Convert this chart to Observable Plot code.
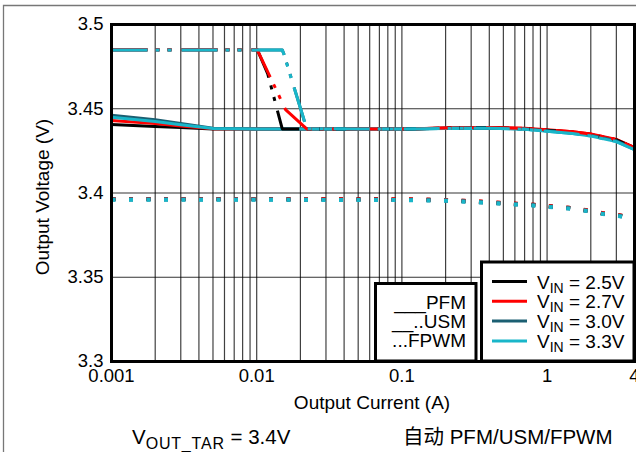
<!DOCTYPE html>
<html><head><meta charset="utf-8">
<script src="https://cdn.jsdelivr.net/npm/d3@7"></script>
<script src="https://cdn.jsdelivr.net/npm/@observablehq/plot@0.6"></script>
<style>
html,body{margin:0;padding:0;background:#fff;}
#chart{width:636px;height:452px;overflow:hidden;}
svg{display:block;font-family:"Liberation Sans",Arial,sans-serif;}
</style></head><body><div id="chart"></div>
<script>
// ---- data ----
const vinLabels = ["2.5V", "2.7V", "3.0V", "3.3V"];
const vinColors = ["#000000", "#ff0000", "#1b5f72", "#19b6c9"];
const modeLabels = ["___PFM", "__..USM", "...FPWM"];
const xTicks = [0.001, 0.01, 0.1, 1, 4];
const yTicks = [3.3, 3.35, 3.4, 3.45, 3.5];
const xGrid = [0.002,0.003,0.004,0.005,0.006,0.007,0.008,0.009,0.01,
               0.02,0.03,0.04,0.05,0.06,0.07,0.08,0.09,0.1,
               0.2,0.3,0.4,0.5,0.6,0.7,0.8,0.9,1,2,3];
const yGrid = [3.35, 3.4, 3.45];

// PFM (solid)
const pfmCurrent = [0.001,0.002,0.003,0.005,0.01,0.02,0.05,0.1,0.2,0.4,0.7,1,1.5,2,3,4];
const pfm25 = [3.4406,3.4395,3.4388,3.4380,3.4380,3.4380,3.4380,3.4380,3.4385,3.4388,3.4382,3.4373,3.4360,3.4347,3.4315,3.4268];
const pfm27 = [3.4430,3.4412,3.4398,3.4382,3.4380,3.4380,3.4380,3.4380,3.4386,3.4389,3.4384,3.4375,3.4363,3.4350,3.4318,3.4270];
const pfm30 = [3.4462,3.4435,3.4412,3.4385,3.4380,3.4380,3.4380,3.4380,3.4384,3.4386,3.4380,3.4370,3.4356,3.4342,3.4310,3.4262];
const pfm33 = [3.4450,3.4425,3.4405,3.4383,3.4380,3.4380,3.4380,3.4380,3.4383,3.4385,3.4378,3.4367,3.4353,3.4338,3.4305,3.4258];

// USM (dash-dot)
const usmCurrent25 = [0.001,0.0101,0.0119,0.015,0.02,0.05,0.1,0.2,0.4,0.7,1,1.5,2,3,4];
const usm25 = [3.4850,3.4850,3.4709,3.4380,3.4380,3.4380,3.4380,3.4385,3.4388,3.4382,3.4373,3.4360,3.4347,3.4315,3.4268];
const usmCurrent27 = [0.001,0.0101,0.0158,0.0221,0.05,0.1,0.2,0.4,0.7,1,1.5,2,3,4];
const usm27 = [3.4850,3.4850,3.4495,3.4380,3.4380,3.4380,3.4386,3.4389,3.4384,3.4375,3.4363,3.4350,3.4318,3.4270];
const usmCurrent3x = [0.001,0.015,0.0154,0.0221,0.05,0.1,0.2,0.4,0.7,1,1.5,2,3,4];
const usm30 = [3.4849,3.4849,3.4825,3.4381,3.4380,3.4380,3.4384,3.4386,3.4380,3.4370,3.4356,3.4342,3.4310,3.4262];
const usm33 = [3.4848,3.4848,3.4823,3.4382,3.4380,3.4380,3.4383,3.4385,3.4378,3.4367,3.4353,3.4338,3.4305,3.4258];

// FPWM (dotted)
const fpwmCurrent = [0.001,0.01,0.1,0.2,0.35,0.5,0.8,1,1.4,2,2.43,3.24,4];
const fpwm25 = [3.3964,3.3964,3.3962,3.3958,3.3948,3.3940,3.3930,3.3922,3.3912,3.3894,3.3879,3.3865,3.3847];
const fpwm27 = [3.3965,3.3965,3.3963,3.3959,3.3949,3.3941,3.3931,3.3923,3.3913,3.3895,3.3880,3.3866,3.3848];
const fpwm30 = [3.3961,3.3961,3.3959,3.3955,3.3945,3.3937,3.3927,3.3919,3.3909,3.3891,3.3876,3.3862,3.3844];
const fpwm33 = [3.3960,3.3960,3.3958,3.3954,3.3944,3.3936,3.3926,3.3918,3.3908,3.3890,3.3875,3.3861,3.3843];

const xTitle = "Output Current (A)";
const yTitle = "Output Voltage (V)";

// ---- build series ----
function rows(xs, ys) { return xs.map((x, i) => ({x, y: ys[i]})); }
const series = [
  {mode: 0, vin: 0, data: rows(pfmCurrent, pfm25)},
  {mode: 0, vin: 1, data: rows(pfmCurrent, pfm27)},
  {mode: 0, vin: 2, data: rows(pfmCurrent, pfm30)},
  {mode: 0, vin: 3, data: rows(pfmCurrent, pfm33)},
  {mode: 2, vin: 0, data: rows(fpwmCurrent, fpwm25)},
  {mode: 2, vin: 1, data: rows(fpwmCurrent, fpwm27)},
  {mode: 2, vin: 2, data: rows(fpwmCurrent, fpwm30)},
  {mode: 2, vin: 3, data: rows(fpwmCurrent, fpwm33)},
  {mode: 1, vin: 0, data: rows(usmCurrent25, usm25)},
  {mode: 1, vin: 2, data: rows(usmCurrent3x, usm30)},
  {mode: 1, vin: 1, data: rows(usmCurrent27, usm27)},
  {mode: 1, vin: 3, data: rows(usmCurrent3x, usm33)}
];
const dashes = [null, "36,8,4,8,4,10", "4,13.5"];
const widths = [3, 3, 4];

const lineMarks = series.map(s => Plot.line(s.data, {
  x: "x", y: "y", stroke: vinColors[s.vin], strokeWidth: widths[s.mode],
  strokeDasharray: dashes[s.mode], strokeLinecap: "butt", strokeLinejoin: "round",
  curve: "linear"
}));

const W = 636, H = 452, mL = 111, mR = 2, mT = 24, mB = 91;
const chart = Plot.plot({
  width: W, height: H,
  marginLeft: mL, marginRight: mR, marginTop: mT, marginBottom: mB,
  style: {fontFamily: '"Liberation Sans", Arial, sans-serif', background: "#fff", overflow: "visible"},
  x: {type: "log", domain: [0.001, 4], axis: null},
  y: {domain: [3.3, 3.5]},
  marks: [
    Plot.ruleX(xGrid, {stroke: "#000", strokeWidth: 1.2, strokeOpacity: 0.75}),
    Plot.ruleY(yGrid, {stroke: "#000", strokeWidth: 1.2, strokeOpacity: 0.8}),
    ...lineMarks,
    Plot.frame({stroke: "#000", strokeWidth: 3}),
    Plot.text(xTicks, {x: d => d, frameAnchor: "bottom", dy: 20, text: d => String(d),
      fontSize: 18.5, fill: "#000", textAnchor: "middle"}),
    Plot.axisY(yTicks, {tickSize: 0, tickPadding: 8, fontSize: 18.5, fill: "#000",
      tickFormat: d => String(d), label: null})
  ]
});
document.getElementById("chart").appendChild(chart);

// ---- annotations, legends, captions ----
const svg = d3.select(chart);
const xs = chart.scale("x"), ys = chart.scale("y");

// outer figure frame (gray)
svg.insert("path", ":first-child")
  .attr("d", `M3.5,${H + 5}V5.5H${W + 5}`)
  .attr("fill", "none").attr("stroke", "#777").attr("stroke-width", 1.3);

// axis titles
svg.append("text").attr("x", 372).attr("y", 409).attr("text-anchor", "middle")
  .attr("font-size", 19).attr("fill", "#000").text(xTitle);
svg.append("text").attr("transform", "translate(49,197) rotate(-90)").attr("text-anchor", "middle")
  .attr("font-size", 19).attr("fill", "#000").text(yTitle);

// mode legend box
const yBottom = ys.apply(3.3);
const xRight = xs.apply(4);
const g1 = svg.append("g");
g1.append("rect").attr("x", 375.5).attr("y", 283.5).attr("width", 100.5).attr("height", yBottom - 283.5)
  .attr("fill", "#fff").attr("stroke", "#000").attr("stroke-width", 3);
modeLabels.forEach((t, i) => {
  g1.append("text").attr("x", 466).attr("y", 309 + i * 19).attr("text-anchor", "end")
    .attr("font-size", 19).attr("fill", "#000").text(t);
});

// VIN legend box
const g2 = svg.append("g");
g2.append("rect").attr("x", 481.5).attr("y", 262).attr("width", xRight - 481.5).attr("height", yBottom - 262)
  .attr("fill", "#fff").attr("stroke", "#000").attr("stroke-width", 3);
vinLabels.forEach((t, i) => {
  const yy = 281.5 + i * 19.8;
  g2.append("line").attr("x1", 492).attr("x2", 527).attr("y1", yy).attr("y2", yy)
    .attr("stroke", vinColors[i]).attr("stroke-width", 3);
  const tx = g2.append("text").attr("x", 537).attr("y", yy + 7).attr("text-anchor", "start")
    .attr("font-size", 19).attr("fill", "#000");
  tx.append("tspan").text("V");
  tx.append("tspan").attr("font-size", 14).attr("dy", 4).text("IN");
  tx.append("tspan").attr("dy", -4).text(" = " + t);
});

// captions
const c1 = svg.append("text").attr("x", 132).attr("y", 444).attr("text-anchor", "start")
  .attr("font-size", 20.5).attr("fill", "#000");
c1.append("tspan").text("V");
c1.append("tspan").attr("font-size", 16).attr("dy", 5).attr("letter-spacing", 0.8).text("OUT_TAR");
c1.append("tspan").attr("dy", -5).attr("letter-spacing", 0).text(" = 3.4V");
svg.append("text").attr("x", 403).attr("y", 444).attr("text-anchor", "start")
  .attr("font-size", 20.5).attr("fill", "#000")
  .text("自动 PFM/USM/FPWM").style("font-family", '"Liberation Sans", "Noto Sans CJK SC", sans-serif');
</script></body></html>
